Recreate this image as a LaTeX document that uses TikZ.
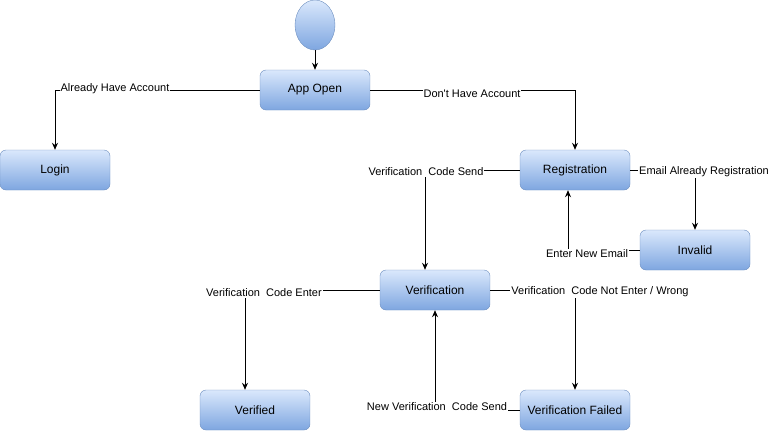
\documentclass[tikz,border=0pt]{standalone}
\usepackage{fontspec}
\setmainfont{Liberation Sans}
\usetikzlibrary{shapes.geometric,arrows.meta}

\definecolor{boxtop}{HTML}{DAE8FC}
\definecolor{boxbot}{HTML}{7EA6E0}
\definecolor{boxline}{HTML}{6C8EBF}

\tikzset{
  state/.style={rectangle, rounded corners=6pt, draw=boxline, top color=boxtop, bottom color=boxbot,
    minimum width=110pt, minimum height=40pt, inner sep=0pt, font=\fontsize{12}{14}\selectfont},
  startstate/.style={ellipse, draw=boxline, top color=boxtop, bottom color=boxbot,
    minimum width=40pt, minimum height=50pt, inner sep=0pt},
  flow/.style={draw=black, line width=0.9pt, -{Stealth[length=7pt,width=6pt]}},
  lbl/.style={fill=white, inner sep=1pt, font=\fontsize{11}{13}\selectfont}
}

\begin{document}
\begin{tikzpicture}[x=1pt, y=-1pt]
    \useasboundingbox (0,0) rectangle (770,431);

    % states
    \node[startstate] (start) at (315,25) {};
    \node[state] (appopen) at (315,90) {App Open};
    \node[state] (login) at (55,170) {Login};
    \node[state] (registration) at (575,170) {Registration};
    \node[state] (invalid) at (695,250) {Invalid};
    \node[state] (verification) at (435,290) {Verification};
    \node[state] (verified) at (255,410) {Verified};
    \node[state] (failed) at (575,410) {Verification Failed};

    % transitions
    \draw[flow] (start) -- (appopen);
    \draw[flow] (appopen.west) -| (login.north);
    \draw[flow] (appopen.east) -| (registration.north);
    \draw[flow] (registration.west) -| ([xshift=-10pt]verification.north);
    \draw[flow] (registration.east) -| (invalid.north);
    \draw[flow] (invalid.west) -| ([xshift=-7pt]registration.south);
    \draw[flow] (verification.west) -| ([xshift=-10pt]verified.north);
    \draw[flow] (verification.east) -| (failed.north);
    \draw[flow] (failed.west) -| (verification.south);

    % labels
    \node[lbl] (lalready) at (115,89) {Already Have Account};
    \node[lbl] (ldont) at (472,94) {Don\textquotesingle t Have Account};
    \node[lbl] (lsend) at (426,172) {Verification~ Code Send};
    \node[lbl] (lemail) at (704,172) {Email Already Registration};
    \node[lbl] (lnew) at (587,254) {Enter New Email};
    \node[lbl] (lenter) at (264,293) {Verification~ Code Enter};
    \node[lbl] (lwrong) at (600,292) {Verification~ Code Not Enter / Wrong};
    \node[lbl] (lresend) at (437,407) {New Verification~ Code Send};
\end{tikzpicture}
\end{document}
